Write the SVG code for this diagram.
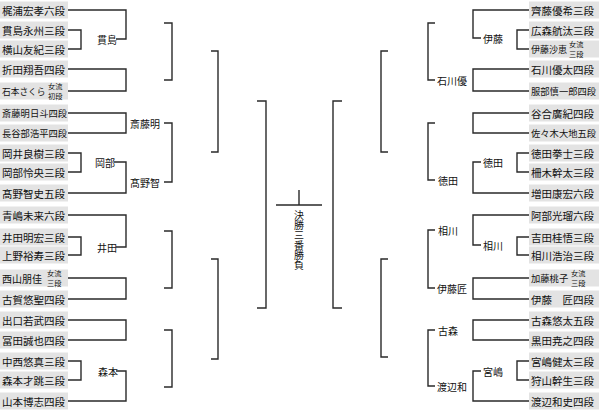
<svg xmlns="http://www.w3.org/2000/svg" width="599" height="411" viewBox="0 0 599 411">
<style>
.box{fill:#e3e3e3}
text{font-family:"Noto Sans CJK JP","Noto Sans CJK SC",sans-serif;fill:#111;dominant-baseline:central}
.nm{font-size:10.5px}
.n7{font-size:9.3px}
.sm{font-size:7.2px}
.lb{font-size:10px}
.cn{fill:none;stroke:#2a2a2a;stroke-width:1.4}
</style>
<rect width="599" height="411" fill="#fff"/>
<g id="left-names">
<g id="L0"><rect class="box" x="0" y="1.5" width="68" height="17"/><text class="nm" x="2" y="10">梶浦宏孝六段</text></g>
<g id="L1"><rect class="box" x="0" y="21.5" width="68" height="17"/><text class="nm" x="2" y="30">貫島永州三段</text></g>
<g id="L2"><rect class="box" x="0" y="40.5" width="68" height="17"/><text class="nm" x="2" y="49">横山友紀三段</text></g>
<g id="L3"><rect class="box" x="0" y="60.5" width="68" height="17"/><text class="nm" x="2" y="69">折田翔吾四段</text></g>
<g id="L4"><rect class="box" x="0" y="82.5" width="68" height="17"/><text style="font-size:8.7px" x="2" y="91">石本さくら</text><text class="sm"><tspan x="48" y="86">女流</tspan><tspan x="48" y="96">初段</tspan></text></g>
<g id="L5"><rect class="box" x="0" y="104.5" width="68" height="17"/><text class="n7" x="2" y="113">斎藤明日斗四段</text></g>
<g id="L6"><rect class="box" x="0" y="124.5" width="68" height="17"/><text class="n7" x="2" y="133">長谷部浩平四段</text></g>
<g id="L7"><rect class="box" x="0" y="144.5" width="68" height="17"/><text class="nm" x="2" y="153">岡井良樹三段</text></g>
<g id="L8"><rect class="box" x="0" y="163.5" width="68" height="17"/><text class="nm" x="2" y="172">岡部怜央三段</text></g>
<g id="L9"><rect class="box" x="0" y="184.5" width="68" height="17"/><text class="nm" x="2" y="193">髙野智史五段</text></g>
<g id="L10"><rect class="box" x="0" y="206.5" width="68" height="17"/><text class="nm" x="2" y="215">青嶋未来六段</text></g>
<g id="L11"><rect class="box" x="0" y="228.5" width="68" height="17"/><text class="nm" x="2" y="237">井田明宏三段</text></g>
<g id="L12"><rect class="box" x="0" y="246.5" width="68" height="17"/><text class="nm" x="2" y="255">上野裕寿三段</text></g>
<g id="L13"><rect class="box" x="0" y="269.5" width="68" height="17"/><text style="font-size:10px" x="2" y="278">西山朋佳</text><text class="sm"><tspan x="47" y="273">女流</tspan><tspan x="47" y="283">三段</tspan></text></g>
<g id="L14"><rect class="box" x="0" y="290.5" width="68" height="17"/><text class="nm" x="2" y="299">古賀悠聖四段</text></g>
<g id="L15"><rect class="box" x="0" y="311.5" width="68" height="17"/><text class="nm" x="2" y="320">出口若武四段</text></g>
<g id="L16"><rect class="box" x="0" y="331.5" width="68" height="17"/><text class="nm" x="2" y="340">冨田誠也四段</text></g>
<g id="L17"><rect class="box" x="0" y="352.5" width="68" height="17"/><text class="nm" x="2" y="361">中西悠真三段</text></g>
<g id="L18"><rect class="box" x="0" y="371.5" width="68" height="17"/><text class="nm" x="2" y="380">森本才跳三段</text></g>
<g id="L19"><rect class="box" x="0" y="392.5" width="68" height="17"/><text class="nm" x="2" y="401">山本博志四段</text></g>
</g>
<g id="right-names">
<g id="R0"><rect class="box" x="529" y="1.5" width="70" height="17"/><text class="nm" x="531" y="10">齊藤優希三段</text></g>
<g id="R1"><rect class="box" x="529" y="21.5" width="70" height="17"/><text class="nm" x="531" y="30">広森航汰三段</text></g>
<g id="R2"><rect class="box" x="529" y="40.5" width="70" height="17"/><text style="font-size:9px" x="531" y="49">伊藤沙恵</text><text class="sm"><tspan x="569" y="44">女流</tspan><tspan x="569" y="54">三段</tspan></text></g>
<g id="R3"><rect class="box" x="529" y="60.5" width="70" height="17"/><text class="nm" x="531" y="69">石川優太四段</text></g>
<g id="R4"><rect class="box" x="529" y="82.5" width="70" height="17"/><text class="n7" x="531" y="91">服部慎一郎四段</text></g>
<g id="R5"><rect class="box" x="529" y="104.5" width="70" height="17"/><text class="nm" x="531" y="113">谷合廣紀四段</text></g>
<g id="R6"><rect class="box" x="529" y="124.5" width="70" height="17"/><text class="n7" x="531" y="133">佐々木大地五段</text></g>
<g id="R7"><rect class="box" x="529" y="144.5" width="70" height="17"/><text class="nm" x="531" y="153">徳田拳士三段</text></g>
<g id="R8"><rect class="box" x="529" y="163.5" width="70" height="17"/><text class="nm" x="531" y="172">柵木幹太三段</text></g>
<g id="R9"><rect class="box" x="529" y="184.5" width="70" height="17"/><text class="nm" x="531" y="193">増田康宏六段</text></g>
<g id="R10"><rect class="box" x="529" y="206.5" width="70" height="17"/><text class="nm" x="531" y="215">阿部光瑠六段</text></g>
<g id="R11"><rect class="box" x="529" y="228.5" width="70" height="17"/><text class="nm" x="531" y="237">吉田桂悟三段</text></g>
<g id="R12"><rect class="box" x="529" y="246.5" width="70" height="17"/><text class="nm" x="531" y="255">相川浩治三段</text></g>
<g id="R13"><rect class="box" x="529" y="269.5" width="70" height="17"/><text style="font-size:9.3px" x="531" y="278">加藤桃子</text><text class="sm"><tspan x="571" y="273">女流</tspan><tspan x="571" y="283">三段</tspan></text></g>
<g id="R14"><rect class="box" x="529" y="290.5" width="70" height="17"/><text class="nm" x="531" y="299">伊藤　匠四段</text></g>
<g id="R15"><rect class="box" x="529" y="311.5" width="70" height="17"/><text class="nm" x="531" y="320">古森悠太五段</text></g>
<g id="R16"><rect class="box" x="529" y="331.5" width="70" height="17"/><text class="nm" x="531" y="340">黒田尭之四段</text></g>
<g id="R17"><rect class="box" x="529" y="352.5" width="70" height="17"/><text class="nm" x="531" y="361">宮嶋健太三段</text></g>
<g id="R18"><rect class="box" x="529" y="371.5" width="70" height="17"/><text class="nm" x="531" y="380">狩山幹生三段</text></g>
<g id="R19"><rect class="box" x="529" y="392.5" width="70" height="17"/><text class="nm" x="531" y="401">渡辺和史四段</text></g>
</g>
<g id="labels">
<text class="lb" x="97" y="39">貫島</text>
<text class="lb" x="95" y="162">岡部</text>
<text class="lb" x="97" y="247">井田</text>
<text class="lb" x="98" y="371">森本</text>
<text class="lb" x="130" y="123">斎藤明</text>
<text class="lb" x="130" y="182">髙野智</text>
<text class="lb" x="483" y="38">伊藤</text>
<text class="lb" x="483" y="162">徳田</text>
<text class="lb" x="483" y="245">相川</text>
<text class="lb" x="483" y="371">宮嶋</text>
<text class="lb" x="437" y="80">石川優</text>
<text class="lb" x="438" y="180">徳田</text>
<text class="lb" x="438" y="230">相川</text>
<text class="lb" x="437" y="288">伊藤匠</text>
<text class="lb" x="438" y="330">古森</text>
<text class="lb" x="437" y="386">渡辺和</text>
<text class="lb" x="299" y="210" style="writing-mode:vertical-rl;dominant-baseline:auto">決勝三番勝負</text>
</g>
<g id="connectors" class="cn">
<path d="M68 10H126V39H116M68 30H81V49H68M68 69H126V91H68M68 113H126V133H68M68 153H81V172H68M114 162H126V193H68M68 215H126V247H116M68 237H81V255H68M68 278H126V299H68M68 320H126V340H68M68 361H81V380H68M116 371H126V401H68"/>
<path d="M164 23H172V80H164M164 123H172V182H164M164 231H172V288H164M164 330H172V387H164M211 51H218V152H211M211 259H218V359H211M257 101H266V308H257"/>
<path d="M529 10H473V38H481M529 30H517V49H529M529 69H473V91H529M529 113H473V133H529M529 153H517V172H529M481 162H473V193H529M529 215H473V245H481M529 237H517V255H529M529 278H473V299H529M529 320H473V340H529M529 361H517V380H529M481 371H473V401H529"/>
<path d="M435 23H428V80H435M435 123H428V180H435M435 230H428V288H435M435 330H428V386H435M388 51H381V152H388M388 259H381V357H388M342 101H333V308H342"/>
<path d="M276 205H322M299 190V205"/>
</g>
</svg>
